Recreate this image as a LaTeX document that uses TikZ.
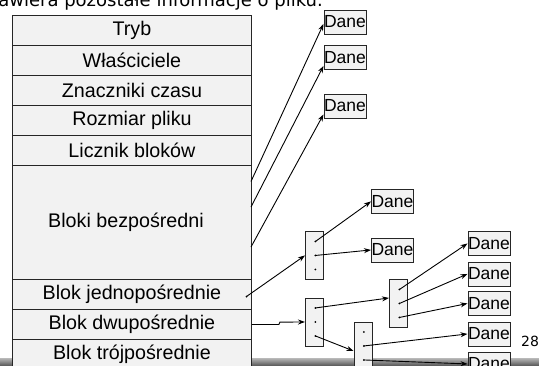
\documentclass[tikz,border=0pt]{standalone}
\usepackage{fontspec}
\setmainfont{Liberation Sans}
\newfontfamily\slidefont{DejaVu Sans}
\usetikzlibrary{arrows.meta}

\newcommand\blkfont{\fontsize{19.7}{22}\selectfont}
\newcommand\danefont{\fontsize{17.5}{20}\selectfont}

\tikzset{
	row/.style={draw=black!85, line width=0.9pt, fill=gray!10, minimum width=239pt, minimum height=30pt, inner sep=0pt, anchor=north west, font=\blkfont},
	dane/.style={draw=black!85, line width=0.9pt, fill=gray!10, minimum width=42pt, minimum height=24pt, inner sep=0pt, anchor=north west, font=\danefont},
	idx/.style={draw=black!85, line width=0.9pt, fill=gray!10, minimum width=18pt, minimum height=48pt, inner sep=0pt, anchor=north west},
	ptr/.style={-{Stealth[length=7pt,width=5pt]}, line width=0.9pt},
}

\begin{document}
\begin{tikzpicture}[x=1pt, y=-1pt]
	\useasboundingbox (0,0) rectangle (539,365);

	% pasek slajdu
	\shade[top color=gray!55, bottom color=gray!75!black] (0,358) rectangle (539,365);
	\node[anchor=base east, font=\slidefont\fontsize{18}{20}\selectfont, inner sep=0pt] (opis) at (323,6.5) {awiera pozostałe informacje o pliku.};
	\node[font=\slidefont\fontsize{14}{16}\selectfont, inner sep=0pt] (nr) at (530,341.5) {28};

	% i-wezel
	\node[row] (tryb) at (12,15) {Tryb};
	\node[row] (wlasc) at (12,45) {Właściciele};
	\node[row] (znacz) at (12,75) {Znaczniki czasu};
	\node[row] (rozm) at (12,105) {Rozmiar pliku};
	\node[row] (liczn) at (12,135) {Licznik bloków};
	\node[row, minimum height=114pt] (bezp) at (12,165) {};
	\node[font=\blkfont] (bezpt) at ([xshift=-6pt]bezp.center) {Bloki bezpośredni};
	\node[row] (jedno) at (12,279) {Blok jednopośrednie};
	\node[row] (dwu) at (12,309) {Blok dwupośrednie};
	\node[row] (troj) at (12,339) {Blok trójpośrednie};

	% bloki indeksowe
	\node[idx] (i1) at (305,231) {};
	\node[idx] (i2) at (305,297.5) {};
	\node[idx] (i3) at (389,279) {};
	\node[idx] (i4) at (353.5,321.5) {};
	\foreach \b in {i1,i2,i3,i4}
		\foreach \k/\dy in {1/14,2/0,3/-14} {
			\coordinate (\b-\k) at ([xshift=1pt, yshift=\dy pt]\b.center);
			\fill (\b-\k) circle (1pt);
		}

	% bloki danych
	\node[dane] (d1) at (323.5,9.5) {Dane};
	\node[dane] (d2) at (323.5,45) {Dane};
	\node[dane] (d3) at (323.5,93.5) {Dane};
	\node[dane] (d4) at (371,189) {Dane};
	\node[dane] (d5) at (371,237.5) {Dane};
	\node[dane] (d6) at (467.5,231) {Dane};
	\node[dane] (d7) at (467.5,261.5) {Dane};
	\node[dane] (d8) at (467.5,291) {Dane};
	\node[dane] (d9) at (467.5,321.5) {Dane};
	\node[dane] (d10) at (467.5,351.5) {Dane};

	\coordinate (p1) at (251,181.5);
	\coordinate (p2) at (251,207);
	\coordinate (p3) at (251,247);
	\coordinate (pj) at (246.5,296.5);
	\fill (pj) circle (1pt);

	\draw[ptr] (p1) -- ([yshift=-2pt]d1.west);
	\draw[ptr] (p2) -- ([yshift=4pt]d2.south west);
	\draw[ptr] (p3) -- ([yshift=4pt]d3.south west);
	\draw[ptr] (pj) -- (i1.west);
	\draw[ptr] (dwu.east) -- ++(27,0) -- ++(1,-2.3) -- (i2.west);

	\draw[ptr] (i1-1) -- (d4.west);
	\draw[ptr] (i1-2) -- (d5.west);
	\draw[ptr] (i2-1) -- ([yshift=5.5pt]i3.west);
	\draw[ptr] (i2-3) -- ([yshift=-5pt]i4.west);
	\draw[ptr] (i3-1) -- (d6.west);
	\draw[ptr] (i3-2) -- (d7.west);
	\draw[ptr] (i3-3) -- (d8.west);
	\draw[ptr] (i4-2) -- (d9.west);
	\draw[ptr] (i4-3) -- (d10.west);
\end{tikzpicture}
\end{document}
